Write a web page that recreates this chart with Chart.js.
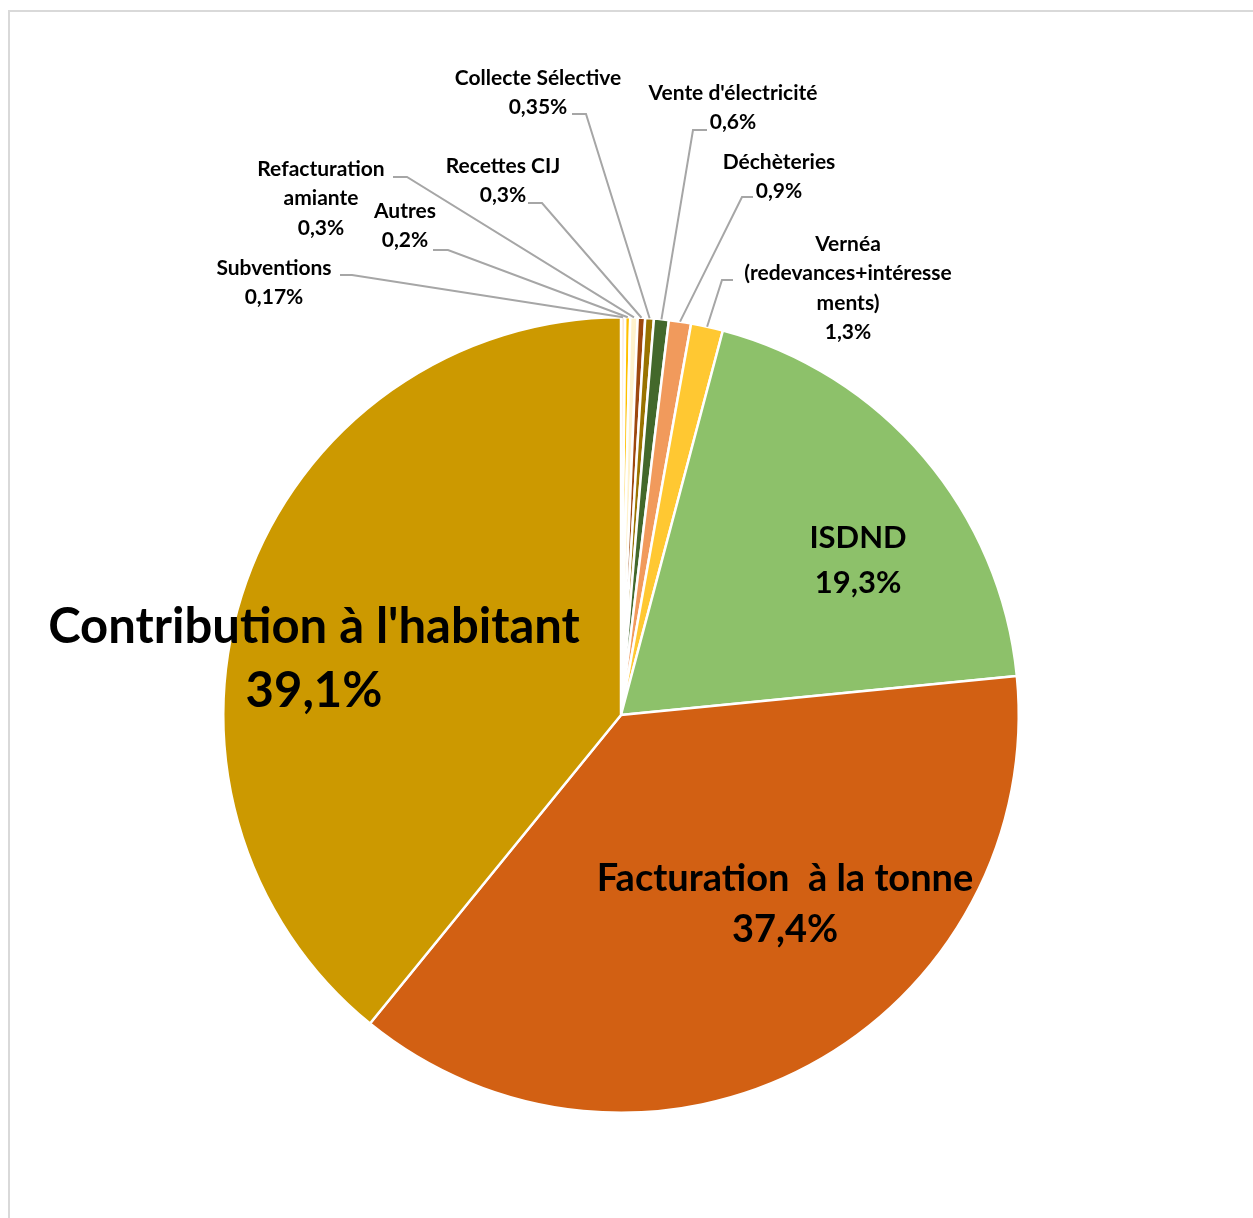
<!DOCTYPE html>
<html>
<head>
<meta charset="utf-8">
<script src="https://cdn.jsdelivr.net/npm/chart.js@4"></script>
<style>
  html, body { margin: 0; padding: 0; background: #fff; overflow: hidden; }
  #wrap { position: relative; width: 1253px; height: 1218px; }
  #frame { position: absolute; left: 8px; top: 10px; width: 1260px; height: 1230px;
           border-left: 2px solid #d9d9d9; border-top: 2px solid #d9d9d9; }
  canvas { position: absolute; left: 0; top: 0; }
</style>
</head>
<body>
<div id="wrap">
  <div id="frame"></div>
  <canvas id="pie" width="1253" height="1218"></canvas>
</div>
<script>
// Données (sens horaire depuis midi)
const categories = ['Subventions', 'Autres', 'Refacturation amiante', 'Recettes CIJ',
    'Collecte Sélective', "Vente d'électricité", 'Déchèteries',
    'Vernéa (redevances+intéressements)', 'ISDND', 'Facturation à la tonne',
    "Contribution à l'habitant"];
const values = [0.17, 0.2, 0.3, 0.3, 0.35, 0.6, 0.9, 1.3, 19.3, 37.4, 39.1];
const colors = ['#FBE5D6', '#FFC000', '#FFF2CC', '#9E480E', '#997300', '#43682B',
    '#F19A5C', '#FFC832', '#8DC16A', '#D26013', '#CC9900'];

// Découpage des étiquettes en lignes (comme dans le graphique d'origine)
const labelLines = [
    ['Subventions'], ['Autres'], ['Refacturation', 'amiante'], ['Recettes CIJ'],
    ['Collecte Sélective'], ["Vente d'électricité"], ['Déchèteries'],
    ['Vernéa', '(redevances+intéresse', 'ments)'], ['ISDND'],
    ['Facturation  à la tonne'], ["Contribution à l'habitant"]
];

// placement des étiquettes : x centre, y première ligne, taille, interligne, trait [x1, x2, y]
const labelPos = [
    { x: 274, y: 268, size: 21, lh: 29.5, leader: [340, 352, 275] },
    { x: 405, y: 211, size: 21, lh: 29.5, leader: [433, 448, 250] },
    { x: 321, y: 169, size: 21, lh: 29.5, leader: [393, 407, 177] },
    { x: 503, y: 166, size: 21, lh: 29.5, leader: [528, 542, 203] },
    { x: 538, y: 78, size: 21, lh: 29.5, leader: [572, 586, 114] },
    { x: 733, y: 93, size: 21, lh: 29.5, leader: [707, 693, 130] },
    { x: 779, y: 162, size: 21, lh: 29.5, leader: [753, 742, 197] },
    { x: 848, y: 244, size: 21, lh: 29.5, leader: [733, 722, 280] },
    { x: 858, y: 538, size: 31, lh: 45, leader: null },
    { x: 785, y: 879, size: 38, lh: 51, leader: null },
    { x: 314, y: 627, size: 49, lh: 64, leader: null }
];

function pct(v) {
    return String(v).replace('.', ',') + '%';
}

const labelPlugin = {
    id: 'pieLabels',
    afterDraw(chart) {
        const c = chart.ctx;
        const arcs = chart.getDatasetMeta(0).data;
        c.save();
        arcs.forEach((arc, i) => {
            const p = labelPos[i];
            const lines = labelLines[i].concat([pct(values[i])]);
            // trait de rappel
            if (p.leader) {
                const { x, y, startAngle, endAngle, outerRadius } = arc.getProps(['x', 'y', 'startAngle', 'endAngle', 'outerRadius'], true);
                const mid = (startAngle + endAngle) / 2;
                const ex = x + Math.cos(mid) * outerRadius;
                const ey = y + Math.sin(mid) * outerRadius;
                c.strokeStyle = '#A6A6A6';
                c.lineWidth = 2;
                c.beginPath();
                c.moveTo(p.leader[0], p.leader[2]);
                c.lineTo(p.leader[1], p.leader[2]);
                c.lineTo(ex, ey);
                c.stroke();
            }
            c.fillStyle = '#000';
            c.textAlign = 'center';
            c.textBaseline = 'middle';
            c.font = 'bold ' + p.size + 'px Lato, "Open Sans", sans-serif';
            lines.forEach((t, k) => c.fillText(t, p.x, p.y + k * p.lh));
        });
        c.restore();
    }
};

new Chart(document.getElementById('pie'), {
    type: 'pie',
    data: {
        labels: categories,
        datasets: [{
            data: values,
            backgroundColor: colors,
            borderColor: '#ffffff',
            borderWidth: 2.5
        }]
    },
    options: {
        responsive: false,
        animation: false,
        layout: { padding: { left: 222, right: 233, top: 316, bottom: 104 } },
        plugins: {
            legend: { display: false },
            tooltip: { enabled: false }
        }
    },
    plugins: [labelPlugin]
});
</script>
</body>
</html>
